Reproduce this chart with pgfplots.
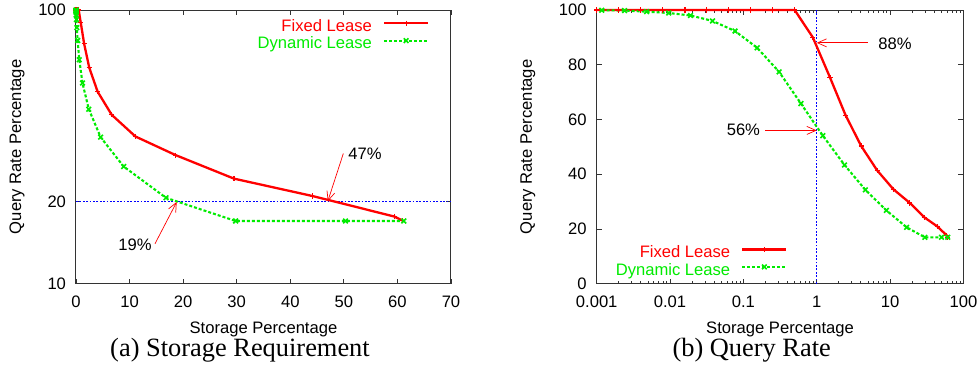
\documentclass[border=0pt]{standalone}
\usepackage{pgfplots}
\pgfplotsset{compat=1.18}
\usepackage{pgfplotstable}
\usepackage{fontspec}
\setmainfont{Liberation Serif}
\setsansfont{Liberation Sans}
\usetikzlibrary{arrows.meta}
\definecolor{gpred}{RGB}{255,0,0}
\definecolor{gpgreen}{RGB}{0,235,0}
\definecolor{gpblue}{RGB}{0,0,255}

\pgfplotstableread{
x y
0.001 100
0.002 100
0.004 100
0.008 100
0.016 100
0.031 100
0.0625 100
0.125 100
0.25 100
0.5 100
0.885 90
1.52 75.3
2.47 61.6
4.04 50.3
6.67 41.4
11.1 34.5
18.6 29.5
29.5 24.2
44.2 20.9
59.4 17.6
61.0 17.0
}\fixedlease

\pgfplotstableread{
x y
0.00117 99.9
0.0024 99.8
0.0048 99.4
0.0096 98.9
0.019 98.0
0.038 96.0
0.077 92.3
0.154 86.2
0.307 77.4
0.61 65.8
1.21 54.1
2.39 43.4
4.6 34.3
8.9 26.8
16.8 20.6
29.8 16.95
50.3 16.95
61.2 16.95
}\dynlease

\newcommand{\sfsz}{\sffamily\fontsize{16.6}{18}\selectfont}

\tikzset{annarrow/.style={gpred, line width=0.7pt, -{Straight Barb[length=9pt,width=8pt]}}}

\pgfplotsset{
  gp/.style={
    scale only axis,
    clip=false,
    tick align=inside,
    tick pos=both,
    major tick length=5pt,
    minor tick length=2.5pt,
    axis line style={line width=1pt, black!80},
    every tick/.style={black!80, line width=0.8pt},
    tick label style={font=\sfsz},
    label style={font=\sfsz},
    /pgf/number format/assume math mode=true,
    xticklabel style={anchor=base, yshift=-24pt},
    yticklabel style={anchor=east, xshift=-6.5pt},
    xlabel style={at={(axis description cs:0.5,0)}, anchor=base, yshift=-49.5pt},
    legend style={draw=none, fill=none, font=\sfsz,
      nodes={inner sep=0pt, text height=12pt, text depth=3.5pt},
      row sep=1.8pt, column sep=11pt},
    legend plot pos=right,
    legend cell align=right,
    legend image code/.code={\draw[mark repeat=2, mark phase=2, ##1] plot coordinates {(0pt,4pt) (22pt,4pt) (44pt,4pt)};},
  },
  fixedstyle/.style={gpred, line width=2.3pt, mark=+, mark size=2.6pt, mark options={solid, line width=1.1pt}},
  dynstyle/.style={gpgreen, line width=2.1pt, dash pattern=on 3pt off 2pt, mark=x, mark size=3.3pt, mark options={solid, line width=1.6pt}},
  refline/.style={gpblue, line width=1.1pt, dash pattern=on 1.8pt off 1.6pt, forget plot},
}

\begin{document}
\begin{tikzpicture}
\useasboundingbox (-76pt,-84.3pt) rectangle (904pt,283.7pt);
% ---------- (a) ----------
\begin{axis}[gp,
  width=375pt, height=273.7pt,
  at={(0pt,0pt)}, anchor=south west,
  xmin=0, xmax=70, xtick={0,10,...,70},
  ymode=log, ymin=10, ymax=100,
  ytick={10,20,100}, yticklabels={10,20,100},
  yminorticks=false,
  xlabel={Storage Percentage},
  ylabel={Query Rate Percentage},
  ylabel style={at={(axis description cs:-0.157,0.5)}, anchor=center},
  legend style={at={(axis description cs:0.9505,0.973)}, anchor=north east},
]
\addplot[refline] coordinates {(0,20) (70,20)};
\addplot[fixedstyle] table[x=x,y=y] {\fixedlease};
\addlegendentry{\textcolor{gpred}{Fixed Lease}}
\addplot[dynstyle] table[x=x,y=y] {\dynlease};
\addlegendentry{\textcolor{gpgreen}{Dynamic Lease}}
\draw[annarrow] (axis cs:49.9,29.9) -- (axis cs:47,20);
\node[anchor=west, font=\sfsz, inner sep=0pt] at (axis cs:50.8,29.9) {47\%};
\draw[annarrow] (axis cs:14.75,14.0) -- (axis cs:18.8,19.9);
\node[font=\sfsz, inner sep=0pt] at (axis cs:11.0,13.93) {19\%};
\end{axis}
% ---------- (b) ----------
\begin{axis}[gp,
  width=366.7pt, height=273.7pt,
  at={(520.7pt,0pt)}, anchor=south west,
  xmode=log, xmin=0.001, xmax=100,
  xtick={0.001,0.01,0.1,1,10,100},
  xticklabels={0.001,0.01,0.1,1,10,100},
  ymin=0, ymax=100, ytick={0,20,...,100},
  xlabel={Storage Percentage},
  ylabel={Query Rate Percentage},
  ylabel style={at={(axis description cs:-0.188,0.5)}, anchor=center},
  legend style={at={(axis description cs:0.529,0.0106)}, anchor=south east},
]
\addplot[refline] coordinates {(1,0) (1,100)};
\addplot[fixedstyle] table[x=x,y=y] {\fixedlease};
\addlegendentry{\textcolor{gpred}{Fixed Lease}}
\addplot[dynstyle] table[x=x,y=y] {\dynlease};
\addlegendentry{\textcolor{gpgreen}{Dynamic Lease}}
\draw[annarrow] (axis cs:5,88) -- (axis cs:1,88);
\node[font=\sfsz, inner sep=0pt] at (axis cs:11.7,87.8) {88\%};
\draw[annarrow] (axis cs:0.2,56) -- (axis cs:1,56);
\node[font=\sfsz, inner sep=0pt] at (axis cs:0.1,56.2) {56\%};
\end{axis}
\node[font=\rmfamily\fontsize{26.4}{28}\selectfont, inner sep=0pt] at (164pt,-66.3pt) {(a) Storage Requirement};
\node[font=\rmfamily\fontsize{26.4}{28}\selectfont, inner sep=0pt] at (675.7pt,-66.3pt) {(b) Query Rate};
\end{tikzpicture}
\end{document}
